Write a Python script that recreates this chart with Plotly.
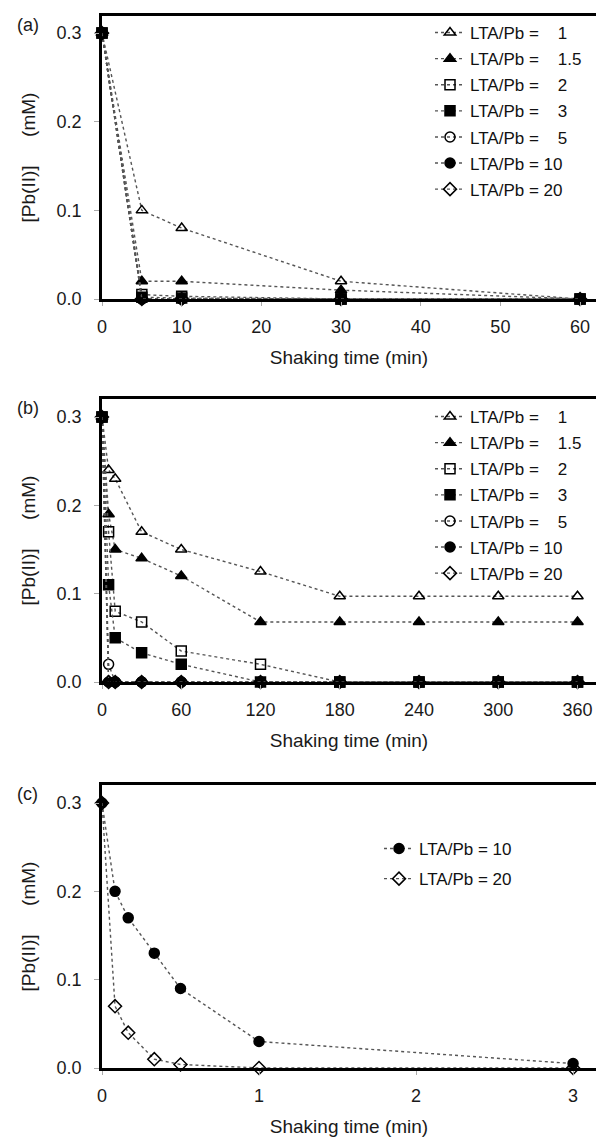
import plotly.graph_objects as go

W, H = 596, 1138

# ---------------- data ----------------
ratios = ["1", "1.5", "2", "3", "5", "10", "20"]
legend_labels = ["LTA/Pb = \u2007 1", "LTA/Pb = \u2007 1.5", "LTA/Pb = \u2007 2",
                 "LTA/Pb = \u2007 3", "LTA/Pb = \u2007 5", "LTA/Pb = 10", "LTA/Pb = 20"]
symbols = ["triangle-up-open", "triangle-up", "square-open", "square",
           "circle-open", "circle", "diamond-open"]

# panel (a)
time_a = [0, 5, 10, 30, 60]
pb_a = {
    "1":   [0.30, 0.100, 0.080, 0.020, 0.0],
    "1.5": [0.30, 0.020, 0.020, 0.010, 0.0],
    "2":   [0.30, 0.005, 0.003, 0.000, 0.0],
    "3":   [0.30, 0.002, 0.001, 0.000, 0.0],
    "5":   [0.30, 0.000, 0.000, 0.000, 0.0],
    "10":  [0.30, 0.000, 0.000, 0.000, 0.0],
    "20":  [0.30, 0.000, 0.000, 0.000, 0.0],
}

# panel (b)
time_b = [0, 5, 10, 30, 60, 120, 180, 240, 300, 360]
pb_b = {
    "1":   [0.30, 0.240, 0.230, 0.170, 0.150, 0.125, 0.097, 0.097, 0.097, 0.097],
    "1.5": [0.30, 0.190, 0.150, 0.140, 0.120, 0.068, 0.068, 0.068, 0.068, 0.068],
    "2":   [0.30, 0.170, 0.080, 0.068, 0.035, 0.020, 0.0, 0.0, 0.0, 0.0],
    "3":   [0.30, 0.110, 0.050, 0.033, 0.020, 0.000, 0.0, 0.0, 0.0, 0.0],
    "5":   [0.30, 0.020, 0.000, 0.000, 0.000, 0.000, 0.0, 0.0, 0.0, 0.0],
    "10":  [0.30, 0.000, 0.000, 0.000, 0.000, 0.000, 0.0, 0.0, 0.0, 0.0],
    "20":  [0.30, 0.000, 0.000, 0.000, 0.000, 0.000, 0.0, 0.0, 0.0, 0.0],
}

# panel (c)
time_c = [0, 0.083, 0.167, 0.333, 0.5, 1, 3]
pb_c_10 = [0.30, 0.200, 0.170, 0.130, 0.090, 0.030, 0.005]
pb_c_20 = [0.30, 0.070, 0.040, 0.010, 0.004, 0.000, 0.000]

xticks_a = [0, 10, 20, 30, 40, 50, 60]
xticks_b = [0, 60, 120, 180, 240, 300, 360]
xticks_c = [0, 1, 2, 3]
yticks = [0.0, 0.1, 0.2, 0.3]

# ---------------- style ----------------
FONT = "Liberation Sans, Arial, sans-serif"
TXT = "#1a1a1a"
LINE = dict(color="#555555", width=1.4, dash="dot")
ML = 102  # left margin in px


def marker(sym):
    return dict(symbol=sym, size=10, color="black",
                line=dict(color="black", width=1.5))


fig = go.Figure()


def add_series(x, y, name, sym, xa, ya, leg):
    fig.add_trace(go.Scatter(
        x=x, y=y, name=name, mode="lines+markers",
        line=LINE, marker=marker(sym), xaxis=xa, yaxis=ya,
        legend=leg, legendgroup=leg + name, cliponaxis=False))


for r, lab, sym in zip(ratios, legend_labels, symbols):
    add_series(time_a, pb_a[r], lab, sym, "x", "y", "legend")
for r, lab, sym in zip(ratios, legend_labels, symbols):
    add_series(time_b, pb_b[r], lab, sym, "x2", "y2", "legend2")
add_series(time_c, pb_c_10, "LTA/Pb = 10", "circle", "x3", "y3", "legend3")
add_series(time_c, pb_c_20, "LTA/Pb = 20", "diamond-open", "x3", "y3", "legend3")


def py(px):
    return 1 - px / H


def pxx(px):
    return (px - ML) / (W - ML)


panels = [  # (top px, bottom px, x range, ticks, letter)
    (16, 299, [0, 62], xticks_a, "(a)"),
    (399, 682, [0, 374], xticks_b, "(b)"),
    (785, 1068, [0, 3.146], xticks_c, "(c)"),
]
y_tops = [0.3193, 0.3204, 0.3204]

layout = dict(
    width=W, height=H, margin=dict(l=ML, r=0, t=0, b=0, autoexpand=False),
    paper_bgcolor="white", plot_bgcolor="white",
    font=dict(family=FONT, size=18, color=TXT),
    showlegend=True,
)
annotations = []
for i, (top, bot, xr, xt, letter) in enumerate(panels):
    sfx = "" if i == 0 else str(i + 1)
    layout["xaxis" + sfx] = dict(
        domain=[0, 1], range=xr, tickvals=xt, anchor="y" + sfx,
        showline=True, linewidth=2.5, linecolor="black", mirror=True,
        ticks="outside", ticklen=4, tickwidth=1, tickcolor="#aaaaaa",
        ticklabelstandoff=6, showgrid=False, zeroline=False, automargin=False,
        tickfont=dict(size=18, color=TXT),
        title=dict(text="Shaking time (min)", standoff=15,
                   font=dict(size=19, color=TXT)),
    )
    layout["yaxis" + sfx] = dict(
        domain=[py(bot), py(top)], range=[0, y_tops[i]], tickvals=yticks,
        tickformat=".1f", anchor="x" + sfx,
        showline=True, linewidth=2.5, linecolor="black", mirror=False,
        ticks="outside", ticklen=5, tickwidth=1, tickcolor="#aaaaaa",
        ticklabelstandoff=9, showgrid=False, zeroline=False, automargin=False,
        tickfont=dict(size=18, color=TXT),
        title=dict(text="[Pb(II)]\u2003\u2002(mM)", standoff=16,
                   font=dict(size=19, color=TXT)),
    )
    annotations.append(dict(
        text=letter, xref="paper", yref="paper", x=pxx(15), y=py(top + 9),
        xanchor="left", yanchor="middle", showarrow=False,
        font=dict(size=18, color=TXT)))

leg_common = dict(bgcolor="rgba(0,0,0,0)", borderwidth=0,
                  font=dict(size=17, color="#111111"),
                  xanchor="left", yanchor="top", traceorder="grouped")
layout["legend"] = dict(x=pxx(430), y=py(15), tracegroupgap=1, **leg_common)
layout["legend2"] = dict(x=pxx(430), y=py(399), tracegroupgap=1, **leg_common)
layout["legend3"] = dict(x=pxx(379), y=py(831), tracegroupgap=5, **leg_common)
layout["annotations"] = annotations

fig.update_layout(**layout)
fig.write_html("out.html",
               config={"displayModeBar": False},
               post_script="document.body.style.margin='0px';"
                           "document.body.style.overflow='hidden';")
